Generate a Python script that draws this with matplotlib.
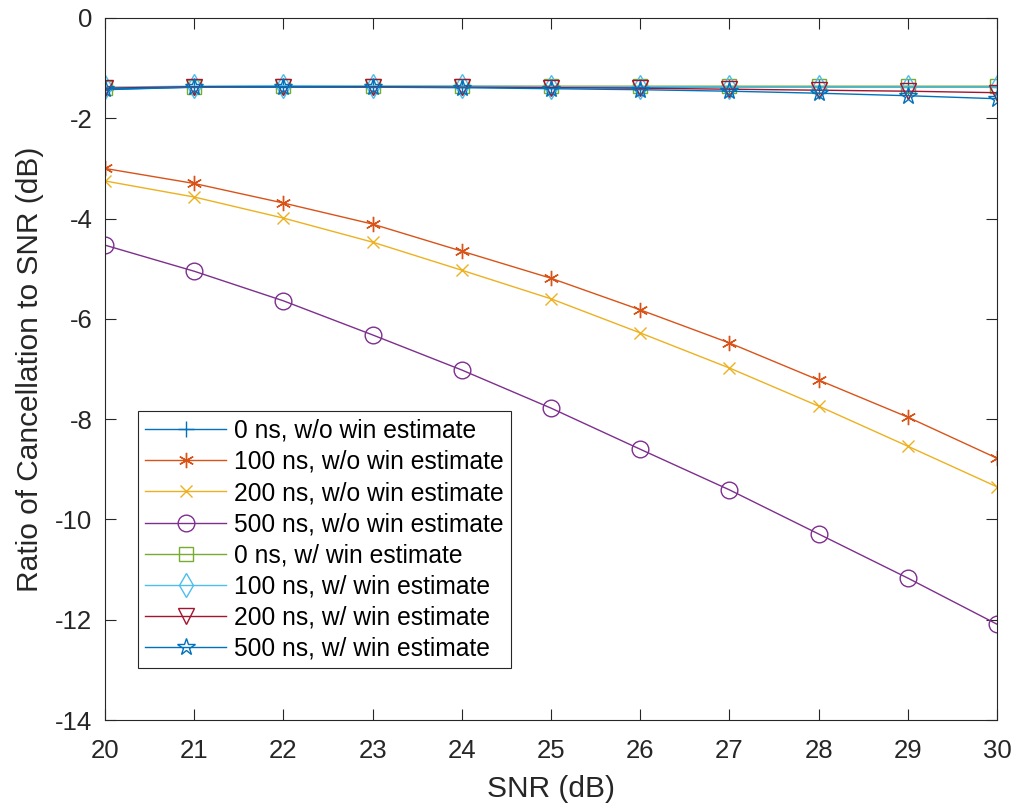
import matplotlib
matplotlib.use("Agg")
import matplotlib.pyplot as plt

plt.rcParams['font.family'] = ['Liberation Sans', 'DejaVu Sans']
plt.rcParams['axes.unicode_minus'] = False

snr = [20, 21, 22, 23, 24, 25, 26, 27, 28, 29, 30]

# w/o window estimate
wo_0 = [-1.43, -1.38, -1.38, -1.38, -1.38, -1.38, -1.38, -1.38, -1.38, -1.38, -1.38]
wo_100 = [-3.00, -3.30, -3.69, -4.11, -4.65, -5.19, -5.82, -6.48, -7.22, -7.96, -8.78]
wo_200 = [-3.25, -3.57, -3.99, -4.47, -5.03, -5.60, -6.28, -6.98, -7.74, -8.54, -9.35]
wo_500 = [-4.53, -5.05, -5.64, -6.32, -7.02, -7.78, -8.60, -9.41, -10.29, -11.17, -12.09]

# w/ window estimate
w_0 = [-1.40, -1.37, -1.36, -1.36, -1.36, -1.36, -1.36, -1.36, -1.36, -1.36, -1.36]
w_100 = [-1.38, -1.36, -1.35, -1.36, -1.36, -1.37, -1.37, -1.38, -1.38, -1.38, -1.38]
w_200 = [-1.40, -1.37, -1.37, -1.37, -1.38, -1.39, -1.40, -1.42, -1.44, -1.46, -1.49]
w_500 = [-1.42, -1.38, -1.37, -1.38, -1.39, -1.41, -1.43, -1.46, -1.50, -1.55, -1.61]

series = [wo_0, wo_100, wo_200, wo_500, w_0, w_100, w_200, w_500]
labels = ["0 ns, w/o win estimate", "100 ns, w/o win estimate",
          "200 ns, w/o win estimate", "500 ns, w/o win estimate",
          "0 ns, w/ win estimate", "100 ns, w/ win estimate",
          "200 ns, w/ win estimate", "500 ns, w/ win estimate"]
colors = ['#0072BD', '#D95319', '#EDB120', '#7E2F8E',
          '#77AC30', '#4DBEEE', '#A2142F', '#0072BD']
markers = ['+', (6, 2, 0), 'x', 'o', 's', 'd', 'v', '*']
sizes = [11, 11, 9, 12, 10, 12, 12, 13]

fig = plt.figure(figsize=(10.15, 8.07), dpi=100)
ax = fig.add_axes([0.1034, 0.1078, 0.8789, 0.8699])

for y, lab, c, m, s in zip(series, labels, colors, markers, sizes):
    ax.plot(snr, y, color=c, marker=m, markersize=s, markerfacecolor='none',
            markeredgecolor=c, markeredgewidth=1.0, linewidth=1.0, label=lab)

ax.set_xlim(20, 30)
ax.set_ylim(-14, 0)
ax.set_xticks(range(20, 31))
ax.set_yticks(range(-14, 1, 2))
ax.tick_params(direction='in', length=8, labelsize=18.5, top=True, right=True,
               colors='#262626')
ax.tick_params(axis='x', pad=14)
ax.tick_params(axis='y', pad=9)
for sp in ax.spines.values():
    sp.set_color('#262626')
    sp.set_linewidth(0.8)

ax.set_xlabel("SNR (dB)", fontsize=21.5, color='#262626', labelpad=8)
ax.set_ylabel("Ratio of Cancellation to SNR (dB)", fontsize=21.5, color='#262626', labelpad=8)

leg = ax.legend(loc='lower left', bbox_to_anchor=(0.037, 0.074), fontsize=17.7,
                fancybox=False, edgecolor='#262626', framealpha=1,
                handlelength=3.3, borderpad=0.3, labelspacing=0.29,
                handletextpad=0.3, borderaxespad=0)
leg.get_frame().set_linewidth(0.8)

fig.savefig("out.png", dpi=100)
